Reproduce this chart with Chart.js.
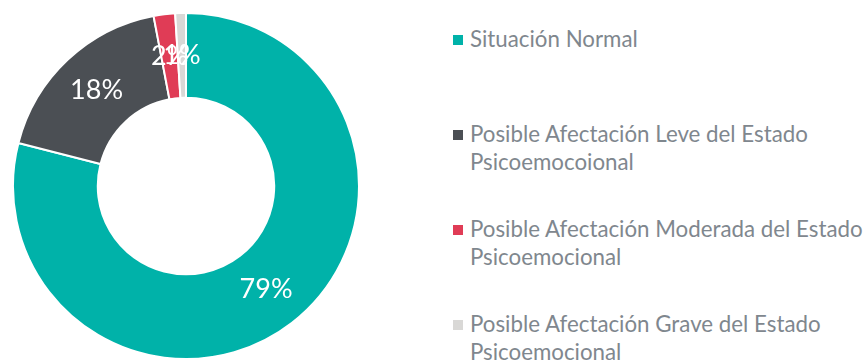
<!DOCTYPE html>
<html>
<head>
<meta charset="utf-8">
<script src="https://cdn.jsdelivr.net/npm/chart.js@4"></script>
<style>
  html, body { margin: 0; padding: 0; background: #fff; }
  body { width: 866px; height: 361px; position: relative; overflow: hidden; font-family: Lato, "Noto Sans", sans-serif; }
  #wrap { position: absolute; left: 0; top: 0; width: 372px; height: 361px; }
  #leyenda { position: absolute; left: 453px; top: 0; width: 413px; }
  .item { position: absolute; left: 0; padding-left: 17px; font-size: 22.3px; line-height: 28px; color: #7f878e; white-space: nowrap; }
  .item i { position: absolute; left: 0; top: 10px; width: 10px; height: 10px; }
</style>
</head>
<body>
<div id="wrap"><canvas id="dona"></canvas></div>
<div id="leyenda"></div>
<script>
// categorias y valores (%)
const categorias = [
  'Situación Normal',
  'Posible Afectación Leve del Estado Psicoemocoional',
  'Posible Afectación Moderada del Estado Psicoemocional',
  'Posible Afectación Grave del Estado Psicoemocional'
];
const valores = [79, 18, 2, 1];
const colores = ['#00b2a9', '#4b4f54', '#e03c56', '#d9d8d6'];
// cortes de linea de la leyenda
const lineasLeyenda = [
  ['Situación Normal'],
  ['Posible Afectación Leve del Estado', 'Psicoemocoional'],
  ['Posible Afectación Moderada del Estado', 'Psicoemocional'],
  ['Posible Afectación Grave del Estado', 'Psicoemocional']
];

// etiquetas de porcentaje dentro de cada segmento
const etiquetas = {
  id: 'etiquetas',
  afterDatasetsDraw(chart) {
    const ctx = chart.ctx;
    const meta = chart.getDatasetMeta(0);
    ctx.save();
    ctx.fillStyle = '#ffffff';
    ctx.font = '27px Lato, "Noto Sans", sans-serif';
    ctx.textAlign = 'center';
    ctx.textBaseline = 'middle';
    meta.data.forEach((arc, i) => {
      const p = arc.tooltipPosition();
      ctx.fillText(valores[i] + '%', p.x, p.y);
    });
    ctx.restore();
  }
};

new Chart(document.getElementById('dona'), {
  type: 'doughnut',
  data: {
    labels: categorias,
    datasets: [{
      data: valores,
      backgroundColor: colores,
      borderColor: '#ffffff',
      borderWidth: 2
    }]
  },
  options: {
    responsive: true,
    maintainAspectRatio: false,
    animation: false,
    cutout: '51%',
    layout: { padding: { left: 12, right: 12, top: 12, bottom: 1 } },
    plugins: { legend: { display: false }, tooltip: { enabled: false } }
  },
  plugins: [etiquetas]
});

// leyenda a la derecha
const leyenda = document.getElementById('leyenda');
const topes = [25, 120, 215, 310];
lineasLeyenda.forEach((lineas, i) => {
  const d = document.createElement('div');
  d.className = 'item';
  d.style.top = topes[i] + 'px';
  d.innerHTML = '<i style="background:' + colores[i] + '"></i>' + lineas.join('<br>');
  leyenda.appendChild(d);
});
</script>
</body>
</html>
